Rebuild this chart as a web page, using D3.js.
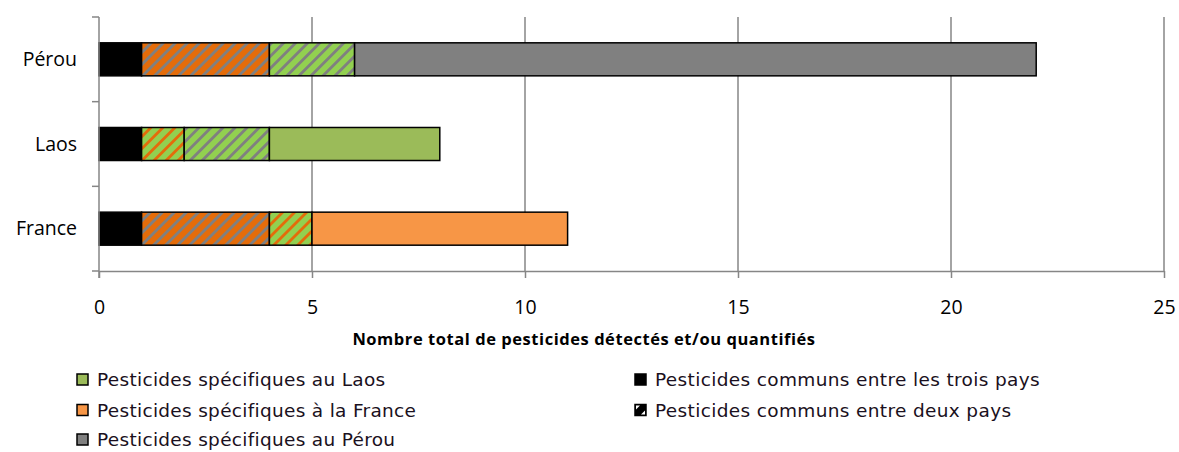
<!DOCTYPE html>
<html>
<head>
<meta charset="utf-8">
<script src="https://cdn.jsdelivr.net/npm/d3@7"></script>
<style>
  html, body { margin: 0; padding: 0; background: #fff; }
  svg { display: block; }
</style>
</head>
<body>
<svg id="chart" width="1179" height="452"></svg>
<script>
// Countries, bottom to top
const countries = ["France", "Laos", "Pérou"];

// Stacked segments, in drawing order from the axis outward
const communsTrois   = [1, 1, 1];   // common to the three countries
const communsFrPe    = [3, 0, 3];   // common France / Pérou
const communsFrLa    = [1, 1, 0];   // common France / Laos
const communsLaPe    = [0, 2, 2];   // common Laos / Pérou
const specifiqueFr   = [6, 0, 0];
const specifiqueLa   = [0, 4, 0];
const specifiquePe   = [0, 0, 16];

const xTicks = [0, 5, 10, 15, 20, 25];
const xTitle = "Nombre total de pesticides détectés et/ou quantifiés";

const legendLeft = [
  "Pesticides spécifiques au Laos",
  "Pesticides spécifiques à la France",
  "Pesticides spécifiques au Pérou"
];
const legendRight = [
  "Pesticides communs entre les trois pays",
  "Pesticides communs entre deux pays"
];

const seriesKeys = ["trois", "frpe", "frla", "lape", "fr", "la", "pe"];
const seriesData = { trois: communsTrois, frpe: communsFrPe, frla: communsFrLa,
                     lape: communsLaPe, fr: specifiqueFr, la: specifiqueLa, pe: specifiquePe };
const rows = countries.map((c, i) => {
  const r = { country: c };
  seriesKeys.forEach(k => r[k] = seriesData[k][i]);
  return r;
});

const C = {
  black: "#000000",
  orange: "#E46C0A",
  green: "#92D050",
  gray: "#808080",
  greenSolid: "#9BBB59",
  orangeSolid: "#F79646",
  axis: "#868686"
};

const svg = d3.select("#chart");
const defs = svg.append("defs");

// Diagonal hatch: base colour with stripes of a second colour
function hatch(id, base, stripe) {
  const p = defs.append("pattern")
    .attr("id", id)
    .attr("patternUnits", "userSpaceOnUse")
    .attr("width", 8.5).attr("height", 8.5)
    .attr("patternTransform", "rotate(45)");
  p.append("rect").attr("width", 8.5).attr("height", 8.5).attr("fill", base);
  p.append("rect").attr("x", 0).attr("width", 2.6).attr("height", 8.5)
    .attr("fill", stripe).attr("shape-rendering", "crispEdges");
}
hatch("h-frpe", C.orange, C.gray);
hatch("h-frla", C.green, C.orange);
hatch("h-lape", C.green, C.gray);

const fills = {
  trois: C.black,
  frpe: "url(#h-frpe)",
  frla: "url(#h-frla)",
  lape: "url(#h-lape)",
  fr: C.orangeSolid,
  la: C.greenSolid,
  pe: C.gray
};

const plot = { left: 99, right: 1164, top: 17, bottom: 271 };

const x = d3.scaleLinear().domain([0, 25]).range([plot.left, plot.right]);
const y = d3.scaleBand()
  .domain(countries.slice().reverse())
  .range([plot.top, plot.bottom])
  .paddingInner(0.61)
  .paddingOuter(0.305);

// Vertical gridlines
svg.append("g")
  .selectAll("line")
  .data(xTicks.filter(d => d > 0))
  .join("line")
  .attr("x1", d => x(d)).attr("x2", d => x(d))
  .attr("y1", plot.top).attr("y2", plot.bottom)
  .attr("stroke", C.axis).attr("stroke-width", 1.5);

// Stacked bars
const stacked = d3.stack().keys(seriesKeys)(rows);
const barG = svg.append("g");
stacked.forEach(layer => {
  barG.selectAll(null)
    .data(layer.filter(d => d[1] - d[0] > 0))
    .join("rect")
    .attr("x", d => x(d[0]))
    .attr("width", d => x(d[1]) - x(d[0]))
    .attr("y", d => y(d.data.country))
    .attr("height", y.bandwidth())
    .attr("fill", fills[layer.key])
    .attr("stroke", "#000")
    .attr("stroke-width", 1.5);
});

const labelFont = "'Open Sans', sans-serif";

// X axis
const xAxis = svg.append("g")
  .attr("transform", `translate(0,${plot.bottom})`)
  .call(d3.axisBottom(x).tickValues(xTicks).tickSize(7).tickSizeOuter(0).tickPadding(22));
xAxis.select(".domain").attr("stroke", C.axis).attr("stroke-width", 1.5);
xAxis.selectAll(".tick line").attr("stroke", C.axis).attr("stroke-width", 1.5);
xAxis.selectAll(".tick text")
  .attr("fill", "#000")
  .style("font-family", labelFont)
  .style("font-size", "19.5px");

// Y axis: ticks at band boundaries, labels at band centres
const yBounds = [0, 1, 2, 3].map(i => plot.top + i * y.step());
const yAxisG = svg.append("g");
yAxisG.append("line")
  .attr("x1", plot.left).attr("x2", plot.left)
  .attr("y1", plot.top).attr("y2", plot.bottom + 7)
  .attr("stroke", C.axis).attr("stroke-width", 1.5);
yAxisG.selectAll(".yt")
  .data(yBounds)
  .join("line")
  .attr("class", "yt")
  .attr("x1", plot.left - 7).attr("x2", plot.left)
  .attr("y1", d => d).attr("y2", d => d)
  .attr("stroke", C.axis).attr("stroke-width", 1.5);
yAxisG.selectAll("text")
  .data(countries)
  .join("text")
  .attr("x", 77)
  .attr("y", d => y(d) + y.bandwidth() / 2)
  .attr("dy", "0.35em")
  .attr("text-anchor", "end")
  .attr("fill", "#000")
  .style("font-family", labelFont)
  .style("font-size", "19.5px")
  .text(d => d);

// Axis title
svg.append("text")
  .attr("x", 584)
  .attr("y", 345)
  .attr("text-anchor", "middle")
  .attr("fill", "#000")
  .style("font-family", labelFont)
  .style("font-weight", "bold")
  .style("font-size", "16.5px")
  .style("letter-spacing", "0.55px")
  .text(xTitle);

// Legend
const legendFont = "'DejaVu Sans', Verdana, sans-serif";
const legG = svg.append("g");
const leftFills = [C.greenSolid, C.orangeSolid, C.gray];
const rowY = [380, 410.5, 440];

legendLeft.forEach((label, i) => {
  legG.append("rect")
    .attr("x", 77).attr("y", rowY[i] - 6).attr("width", 11).attr("height", 11)
    .attr("fill", leftFills[i]).attr("stroke", "#000").attr("stroke-width", 1.5);
  legG.append("text")
    .attr("x", 97).attr("y", rowY[i]).attr("dy", "0.35em")
    .attr("fill", "#1a1020")
    .style("font-family", legendFont).style("font-size", "18.5px")
    .style("letter-spacing", "0.3px")
    .text(label);
});

legendRight.forEach((label, i) => {
  const sx = 635, sy = rowY[i] - 6;
  legG.append("rect")
    .attr("x", sx).attr("y", sy).attr("width", 11).attr("height", 11)
    .attr("fill", "#000").attr("stroke", "#000").attr("stroke-width", 1.5);
  if (i === 1) {
    legG.append("path")
      .attr("d", `M${sx + 1},${sy + 1}L${sx + 5},${sy + 1}L${sx + 1},${sy + 5}Z M${sx + 10},${sy + 10}L${sx + 6},${sy + 10}L${sx + 10},${sy + 6}Z`)
      .attr("fill", "#fff");
  }
  legG.append("text")
    .attr("x", 655).attr("y", rowY[i]).attr("dy", "0.35em")
    .attr("fill", "#1a1020")
    .style("font-family", legendFont).style("font-size", "18.5px")
    .style("letter-spacing", "0.35px")
    .text(label);
});
</script>
</body>
</html>
